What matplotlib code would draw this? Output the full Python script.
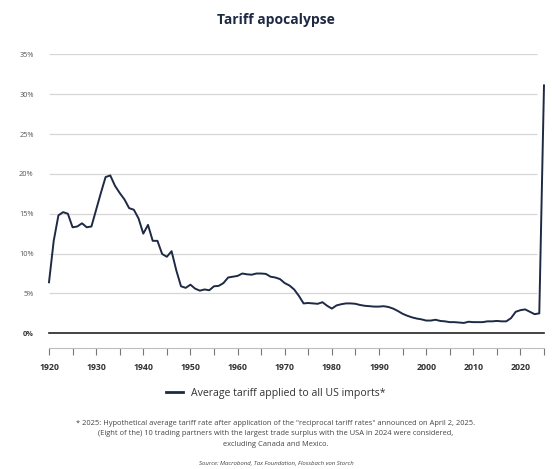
import matplotlib
matplotlib.use("Agg")
import matplotlib.pyplot as plt
from matplotlib.lines import Line2D
import numpy as np

plt.rcParams['font.family'] = ['Open Sans', 'DejaVu Sans']

years = list(range(1920, 2026))
tariff = [
    6.4, 11.6, 14.8, 15.2, 15.0, 13.3, 13.4, 13.8, 13.3, 13.4,   # 1920-1929
    15.5, 17.6, 19.6, 19.8, 18.5, 17.6, 16.8, 15.7, 15.5, 14.4,  # 1930-1939
    12.5, 13.6, 11.6, 11.6, 9.95, 9.6, 10.3, 7.9, 5.9, 5.7,      # 1940-1949
    6.1, 5.6, 5.35, 5.5, 5.4, 5.9, 5.95, 6.3, 7.0, 7.1,          # 1950-1959
    7.2, 7.5, 7.4, 7.35, 7.5, 7.5, 7.45, 7.1, 7.0, 6.8,          # 1960-1969
    6.3, 6.0, 5.5, 4.7, 3.75, 3.8, 3.75, 3.7, 3.9, 3.45,         # 1970-1979
    3.1, 3.5, 3.65, 3.75, 3.75, 3.7, 3.55, 3.45, 3.4, 3.35,      # 1980-1989
    3.35, 3.4, 3.3, 3.1, 2.8, 2.45, 2.2, 2.0, 1.85, 1.75,        # 1990-1999
    1.6, 1.6, 1.7, 1.55, 1.5, 1.4, 1.4, 1.35, 1.3, 1.45,         # 2000-2009
    1.4, 1.4, 1.4, 1.5, 1.5, 1.55, 1.5, 1.5, 1.9, 2.7,           # 2010-2019
    2.9, 3.0, 2.7, 2.4, 2.5, 31.1,                               # 2020-2025
]
y_ticks = [0, 5, 10, 15, 20, 25, 30, 35]
y_tick_labels = ["0%", "5%", "10%", "15%", "20%", "25%", "30%", "35%"]
x_major = list(range(1920, 2021, 10))
x_minor = list(range(1925, 2026, 10))

title = "Tariff apocalypse"
legend_label = "Average tariff applied to all US imports*"
footnote = ('* 2025: Hypothetical average tariff rate after application of the "reciprocal tariff rates" announced on April 2, 2025.\n'
            '(Eight of the) 10 trading partners with the largest trade surplus with the USA in 2024 were considered,\n'
            'excluding Canada and Mexico.')
source = "Source: Macrobond, Tax Foundation, Flossbach von Storch"

W, H = 552, 469
fig = plt.figure(figsize=(W / 100, H / 100), dpi=100)
fig.patch.set_facecolor("white")

left, right = 49 / W, 544 / W
bottom, top = 1 - 333.3 / H, 1 - 54.3 / H
ax = fig.add_axes([left, bottom, right - left, top - bottom])

navy = "#1e2944"

ax.set_xlim(1920, 2025)
ax.set_ylim(0, 35)

# gridlines
for v in y_ticks[1:]:
    ax.hlines(v, 1920, 2023.6, color="#d6d6d6", lw=0.9, zorder=1)
ax.axhline(0, color="#222222", lw=1.2, zorder=2, clip_on=False)

ax.plot(years, tariff, color=navy, lw=1.4, zorder=3, clip_on=False,
        solid_joinstyle="round")

for s in ["top", "right", "left"]:
    ax.spines[s].set_visible(False)
ax.spines["bottom"].set_position(("outward", 10.5))
ax.spines["bottom"].set_color("#bdbdbd")
ax.spines["bottom"].set_linewidth(0.8)

ax.set_yticks(y_ticks)
ax.set_yticklabels(y_tick_labels)
ax.tick_params(axis="y", length=0, pad=11, labelsize=5.3, labelcolor="#555555")
for lbl in ax.get_yticklabels():
    lbl.set_horizontalalignment("right")
    if lbl.get_text() == "0%":
        lbl.set_fontweight("bold")
        lbl.set_color("#333333")

ax.set_xticks(x_major)
ax.set_xticks(x_minor, minor=True)
ax.set_xticklabels([str(y) for y in x_major])
ax.tick_params(axis="x", which="both", direction="out", length=5, width=0.8,
               color="#777777")
ax.tick_params(axis="x", which="major", pad=6, labelsize=6.3, labelcolor="#333333")
for lbl in ax.get_xticklabels():
    lbl.set_fontweight("bold")

fig.text(0.5, 1 - 20 / H, title, ha="center", va="center", fontsize=10,
         fontweight="bold", color=navy)

handle = Line2D([0], [0], color=navy, lw=2)
fig.legend([handle], [legend_label], loc="center", bbox_to_anchor=(0.5, 1 - 393 / H),
           frameon=False, fontsize=7.6, handlelength=1.6, handletextpad=0.8,
           labelcolor="#333333")

fig.text(0.5, 1 - 433.5 / H, footnote, ha="center", va="center", fontsize=5.45,
         color="#444444", linespacing=1.7)
fig.text(0.5, 1 - 463 / H, source, ha="center", va="center", fontsize=4.3,
         style="italic", color="#444444")

fig.savefig("out.png", dpi=100, facecolor="white")
